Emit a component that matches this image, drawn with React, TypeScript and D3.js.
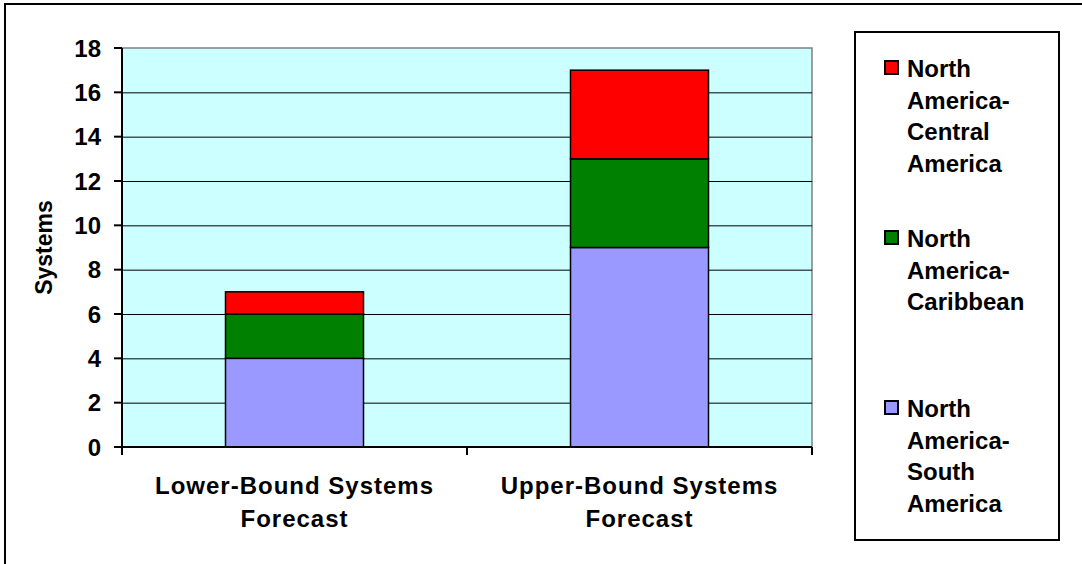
import React from "react";
import * as d3 from "d3";

const categories = [
  ["Lower-Bound Systems", "Forecast"],
  ["Upper-Bound Systems", "Forecast"]
];
const seriesNames = [
  ["North", "America-", "South", "America"],
  ["North", "America-", "Caribbean"],
  ["North", "America-", "Central", "America"]
];
const seriesColors = ["#9999FF", "#008000", "#FF0000"];
const southAmerica = [4, 9];
const caribbean = [2, 4];
const centralAmerica = [1, 4];
const yTicks = [0, 2, 4, 6, 8, 10, 12, 14, 16, 18];

const W = 1082;
const H = 564;
const plot = { left: 122, right: 812, top: 48, bottom: 447 };
const font = "'Liberation Sans', Arial, sans-serif";

const App = () => {
  const x = d3
    .scaleBand<number>()
    .domain(d3.range(categories.length))
    .range([plot.left, plot.right])
    .padding(0);
  const y = d3.scaleLinear().domain([0, 18]).range([plot.bottom, plot.top]);
  const barW = x.bandwidth() * 0.4;

  const rows = categories.map((_, i) => ({
    i,
    s0: southAmerica[i],
    s1: caribbean[i],
    s2: centralAmerica[i]
  }));
  const stacked = d3.stack<any>().keys(["s0", "s1", "s2"])(rows);

  // legend order is reversed (top entry = top of stack)
  const legendOrder = [2, 1, 0];
  const legendY = [77, 247, 417];

  return (
    <svg
      width={W}
      height={H}
      style={{ position: "absolute", left: 0, top: 0, background: "#fff" }}
      fontFamily={font}
      fontWeight="bold"
    >
      <rect x={5} y={4} width={W + 10} height={H + 10} fill="#fff" stroke="#000" strokeWidth={2} />

      {/* plot area */}
      <rect
        x={plot.left}
        y={plot.top}
        width={plot.right - plot.left}
        height={plot.bottom - plot.top}
        fill="#CCFFFF"
      />
      <path
        d={`M${plot.left},${plot.top}H${plot.right}V${plot.bottom}`}
        fill="none"
        stroke="#808080"
        strokeWidth={1.5}
      />
      {yTicks
        .filter(t => t > 0 && t < 18)
        .map(t => (
          <line key={t} x1={plot.left} x2={plot.right} y1={y(t) + 0.5} y2={y(t) + 0.5} stroke="#000" strokeWidth={1} />
        ))}

      {/* bars */}
      {stacked.map((layer, k) =>
        layer.map((d, i) => {
          const cx = (x(i) as number) + x.bandwidth() / 2;
          return (
            <rect
              key={k + "-" + i}
              x={cx - barW / 2}
              y={y(d[1])}
              width={barW}
              height={y(d[0]) - y(d[1])}
              fill={seriesColors[k]}
              stroke="#000"
              strokeWidth={1.5}
            />
          );
        })
      )}

      {/* y axis */}
      <line x1={plot.left} x2={plot.left} y1={plot.top} y2={plot.bottom + 1} stroke="#000" strokeWidth={2} />
      {yTicks.map(t => (
        <g key={t}>
          <line x1={plot.left - 8} x2={plot.left} y1={y(t)} y2={y(t)} stroke="#000" strokeWidth={2} />
          <text x={101} y={y(t)} dy="0.36em" textAnchor="end" fontSize={24}>
            {t}
          </text>
        </g>
      ))}
      <text
        transform={`translate(52,${(plot.top + plot.bottom) / 2}) rotate(-90)`}
        textAnchor="middle"
        fontSize={23}
      >
        Systems
      </text>

      {/* x axis */}
      <line x1={plot.left - 8} x2={plot.right} y1={plot.bottom} y2={plot.bottom} stroke="#000" strokeWidth={2} />
      {d3.range(categories.length + 1).map(i => {
        const xx = i < categories.length ? (x(i) as number) : plot.right;
        return <line key={i} x1={xx} x2={xx} y1={plot.bottom} y2={plot.bottom + 8} stroke="#000" strokeWidth={2} />;
      })}
      {categories.map((lines, i) => (
        <text key={i} textAnchor="middle" fontSize={24} letterSpacing={1}>
          {lines.map((l, j) => (
            <tspan key={j} x={(x(i) as number) + x.bandwidth() / 2} y={494 + j * 33}>
              {l}
            </tspan>
          ))}
        </text>
      ))}

      {/* legend */}
      <rect x={855} y={32} width={204} height={508} fill="#fff" stroke="#000" strokeWidth={2} />
      {legendOrder.map((s, n) => (
        <g key={s}>
          <rect x={885} y={legendY[n] - 16} width={13} height={13} fill={seriesColors[s]} stroke="#000" strokeWidth={2} />
          <text fontSize={24}>
            {seriesNames[s].map((l, j) => (
              <tspan key={j} x={907} y={legendY[n] + j * 31.5}>
                {l}
              </tspan>
            ))}
          </text>
        </g>
      ))}
    </svg>
  );
};

export default App;
